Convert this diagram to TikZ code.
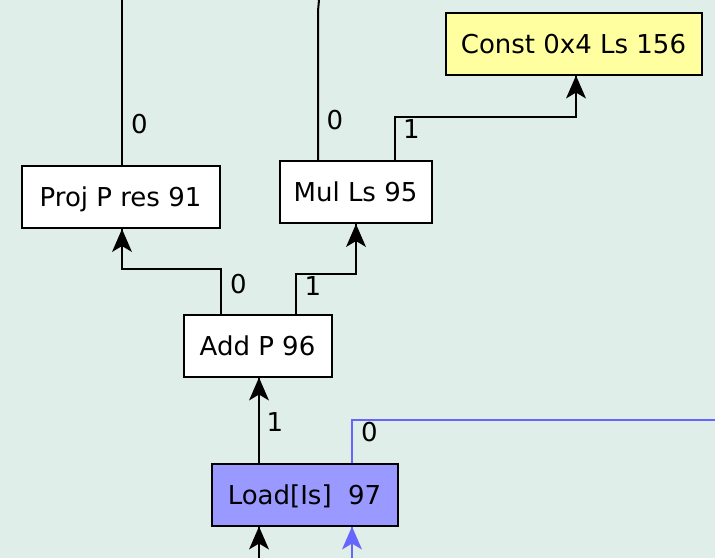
\documentclass[tikz,border=0pt]{standalone}
\usepackage{fontspec}
\setmainfont{DejaVu Sans}
\definecolor{bg}{RGB}{223,238,232}
\definecolor{loadfill}{RGB}{153,153,255}
\definecolor{constfill}{RGB}{255,255,160}
\definecolor{memblue}{RGB}{102,102,255}
\newcommand\upheadtip[2][black]{\fill[#1] #2 -- ++(-10,23) -- ++(10,-6) -- ++(10,6) -- cycle;}
\begin{document}
\begin{tikzpicture}[x=1pt,y=-1pt]
\tikzset{
  box/.style={draw,line width=2pt,inner sep=0pt,text height=19pt,text depth=0pt,font=\fontsize{26pt}{30pt}\selectfont},
  lbl/.style={inner sep=0pt,text height=19pt,text depth=0pt,font=\fontsize{26pt}{30pt}\selectfont},
  conn/.style={line width=2pt}}
\fill[bg] (0,0) rectangle (715,558);
\useasboundingbox (0,0) rectangle (715,558);

\node[box,fill=white,minimum width=198pt,minimum height=62pt] (proj) at (120.5,197) {Proj P res 91};
\node[box,fill=white,minimum width=152pt,minimum height=62pt] (mul) at (355.5,192) {Mul Ls 95};
\node[box,fill=constfill,minimum width=256pt,minimum height=62pt] (const) at (573.5,43.5) {Const 0x4 Ls 156};
\node[box,fill=white,minimum width=148pt,minimum height=62pt] (add) at (257.5,345.5) {Add P 96};
\node[box,fill=loadfill,minimum width=186pt,minimum height=62pt] (load) at (304.5,494.5) {Load[Is]\ \ 97};

\coordinate (ptop) at (122,0);
\coordinate (mtop) at (319,0);
\coordinate (bright) at (715,420);
\coordinate (b1) at (259,558);
\coordinate (b2) at (352,558);

% edges
\draw[conn] ([xshift=1.5pt]proj.north) -- (ptop);
\draw[conn] ([xshift=-37.5pt]mul.north) -- ++(0,-149) -- (mtop);
\draw[conn] ([xshift=39.5pt]mul.north) -- ++(0,-43) -| ([xshift=2.5pt]const.south);
\upheadtip{([xshift=2.5pt]const.south)}
\draw[conn] ([xshift=-36.5pt]add.north) -- ++(0,-44.5) -| ([xshift=1.5pt]proj.south);
\upheadtip{([xshift=1.5pt]proj.south)}
\draw[conn] ([xshift=38.5pt]add.north) -- ++(0,-39.5) -| ([xshift=0.5pt]mul.south);
\upheadtip{([xshift=0.5pt]mul.south)}
\draw[conn] ([xshift=-45.5pt]load.north) -- ([xshift=1.5pt]add.south);
\upheadtip{([xshift=1.5pt]add.south)}
\draw[conn,memblue] ([xshift=47.5pt]load.north) |- (bright);
\draw[conn] (b1) -- ([xshift=-45.5pt]load.south);
\upheadtip{([xshift=-45.5pt]load.south)}
\draw[conn,memblue] (b2) -- ([xshift=47.5pt]load.south);
\upheadtip[memblue]{([xshift=47.5pt]load.south)}

% labels
\node[lbl] (l1) at (139.5,124) {0};
\node[lbl] (l2) at (335,120) {0};
\node[lbl] (l3) at (411.5,129) {1};
\node[lbl] (l4) at (238.5,283.5) {0};
\node[lbl] (l5) at (313,286) {1};
\node[lbl] (l6) at (275,422) {1};
\node[lbl] (l7) at (369.5,432) {0};
\end{tikzpicture}
\end{document}
